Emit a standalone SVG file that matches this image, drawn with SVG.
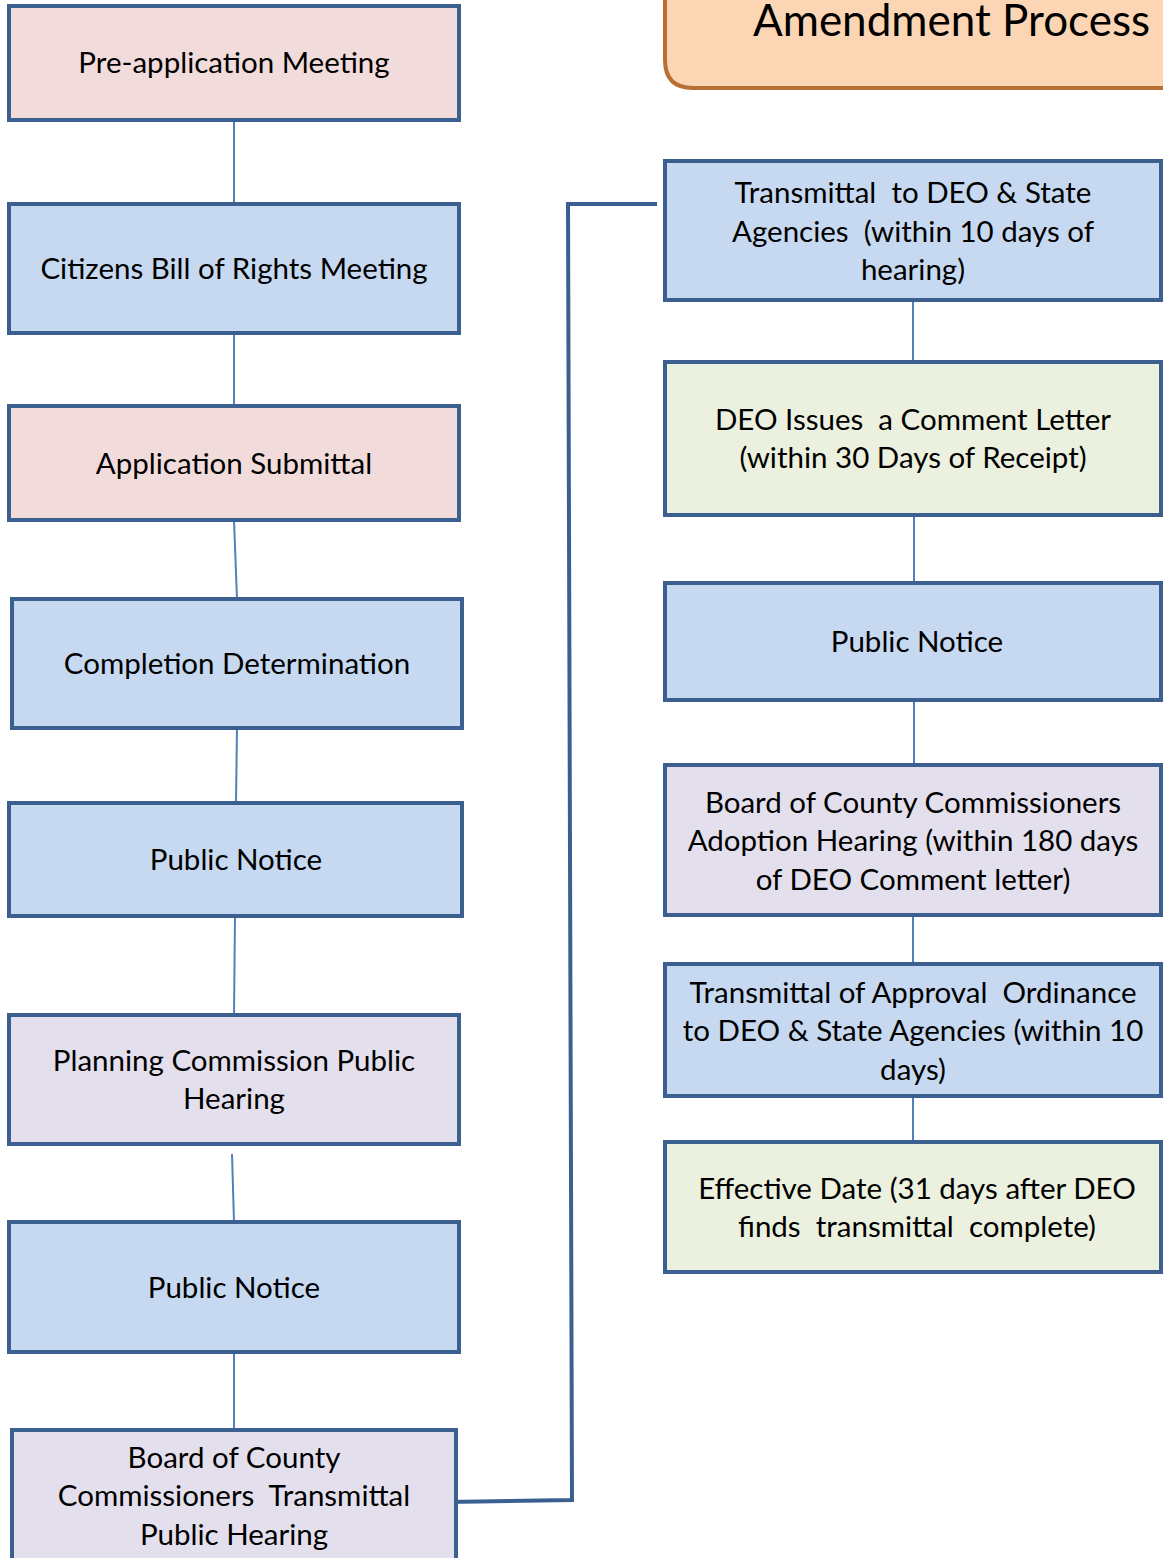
<svg xmlns="http://www.w3.org/2000/svg" width="1163" height="1558" viewBox="0 0 1163 1558">
<style>
text{font-family:Lato,"Open Sans","Liberation Sans",sans-serif;font-size:29.5px;fill:#000;text-anchor:middle;white-space:pre}
.b{stroke:#3b6090;stroke-width:4}
.pink{fill:#f2dcdb}.blue{fill:#c6d9f1}.lav{fill:#e4dfec}.green{fill:#ebf1de}
.thin{stroke:#4f81bd;stroke-width:2;fill:none}
.thick{stroke:#3b6090;stroke-width:4;fill:none}
.title{font-size:44px;text-anchor:start}
</style>
<g id="title">
<path d="M665,-10 L665,60 Q665,88 693,88 L1175,88 L1175,-10" fill="#fcd5b4" stroke="#b86f33" stroke-width="4"/>
<text class="title" x="753" y="36">Amendment Process</text>
</g>
<g id="connectors">
<line class="thin" x1="234" y1="120" x2="234" y2="204"/>
<line class="thin" x1="234" y1="333" x2="234" y2="406"/>
<line class="thin" x1="234" y1="520" x2="237" y2="599"/>
<line class="thin" x1="237" y1="728" x2="236" y2="803"/>
<line class="thin" x1="235" y1="916" x2="234" y2="1015"/>
<line class="thin" x1="232" y1="1154" x2="234" y2="1222"/>
<line class="thin" x1="234" y1="1352" x2="234" y2="1430"/>
<polyline class="thick" points="447,1502 572,1500 568,204 657,204"/>
<line class="thin" x1="913" y1="300" x2="913" y2="362"/>
<line class="thin" x1="914" y1="515" x2="914" y2="583"/>
<line class="thin" x1="914" y1="700" x2="914" y2="765"/>
<line class="thin" x1="913" y1="915" x2="913" y2="964"/>
<line class="thin" x1="913" y1="1096" x2="913" y2="1142"/>
</g>
<g id="n1"><rect class="b pink" x="9" y="6" width="450" height="114"/><text x="234" y="73">Pre-application Meeting</text></g>
<g id="n2"><rect class="b blue" x="9" y="204" width="450" height="129"/><text x="234" y="279">Citizens Bill of Rights Meeting</text></g>
<g id="n3"><rect class="b pink" x="9" y="406" width="450" height="114"/><text x="234" y="474">Application Submittal</text></g>
<g id="n4"><rect class="b blue" x="12" y="599" width="450" height="129"/><text x="237" y="674">Completion Determination</text></g>
<g id="n5"><rect class="b blue" x="9" y="803" width="453" height="113"/><text x="236" y="870">Public Notice</text></g>
<g id="n6"><rect class="b lav" x="9" y="1015" width="450" height="129"/><text x="234" y="1071">Planning Commission Public</text><text x="234" y="1109">Hearing</text></g>
<g id="n7"><rect class="b blue" x="9" y="1222" width="450" height="130"/><text x="234" y="1298">Public Notice</text></g>
<g id="n8"><rect class="b lav" x="12" y="1430" width="444" height="140"/><text x="234" y="1468">Board of County</text><text x="234" y="1506">Commissioners  Transmittal</text><text x="234" y="1545">Public Hearing</text></g>
<g id="r1"><rect class="b blue" x="665" y="161" width="496" height="139"/><text x="913" y="203">Transmittal  to DEO &amp; State</text><text x="913" y="242">Agencies  (within 10 days of</text><text x="913" y="280">hearing)</text></g>
<g id="r2"><rect class="b green" x="665" y="362" width="496" height="153"/><text x="913" y="430">DEO Issues  a Comment Letter</text><text x="913" y="468">(within 30 Days of Receipt)</text></g>
<g id="r3"><rect class="b blue" x="665" y="583" width="496" height="117"/><text x="917" y="652">Public Notice</text></g>
<g id="r4"><rect class="b lav" x="665" y="765" width="496" height="150"/><text x="913" y="813">Board of County Commissioners</text><text x="913" y="851">Adoption Hearing (within 180 days</text><text x="913" y="890">of DEO Comment letter)</text></g>
<g id="r5"><rect class="b blue" x="665" y="964" width="496" height="132"/><text x="913" y="1003">Transmittal of Approval  Ordinance</text><text x="913" y="1041">to DEO &amp; State Agencies (within 10</text><text x="913" y="1080">days)</text></g>
<g id="r6"><rect class="b green" x="665" y="1142" width="496" height="130"/><text x="917" y="1199">Effective Date (31 days after DEO</text><text x="917" y="1237">finds  transmittal  complete)</text></g>
</svg>
